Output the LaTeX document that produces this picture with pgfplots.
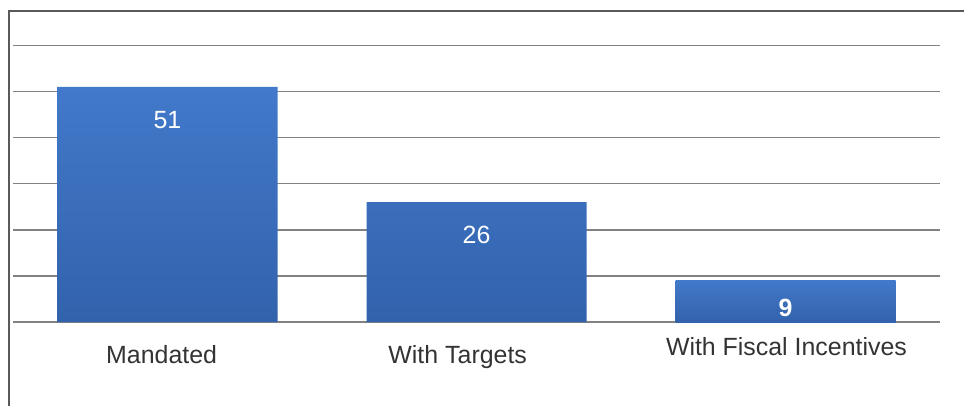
\documentclass[border=0pt]{standalone}
\usepackage{pgfplots}
\pgfplotsset{compat=1.18}
\usepackage{fontspec}
\setmainfont{Liberation Sans}
\definecolor{barTop}{HTML}{4279CA}
\definecolor{barMid}{HTML}{3E73C2}
\definecolor{barBot}{HTML}{3262AC}
\definecolor{gridc}{HTML}{828282}
\definecolor{txt}{HTML}{333333}
\definecolor{frame}{HTML}{5A5A5A}
\begin{document}
\begin{tikzpicture}[x=1bp,y=1bp]
\path[use as bounding box] (0,0) rectangle (964,406);
\draw[color=frame, line width=1.3bp] (9,0) -- (9,395) -- (964,395);
\begin{axis}[
  at={(13bp,84bp)}, anchor=south west,
  scale only axis, width=927bp, height=276.6bp,
  xmin=-0.5, xmax=2.5, ymin=0, ymax=60,
  axis line style={draw=none},
  major tick length=0pt,
  ytick={0,10,...,60}, yticklabels={},
  ymajorgrids, grid style={gridc, line width=1.5bp},
  xtick={-0.019,0.939,2.003},
  xticklabels={Mandated, With Targets, \raisebox{8bp}{With Fiscal Incentives}},
  xticklabel style={font=\fontsize{25}{28}\selectfont, text=txt, anchor=base, yshift=-41bp},
  clip=false,
]
\addplot[ybar, bar width=0.712, bar shift=0pt, draw=none, shade, top color=barTop, middle color=barMid, bottom color=barBot,
  nodes near coords, point meta=explicit symbolic,
  every node near coord/.append style={anchor=base, yshift=-41.5bp, text=white, font=\fontsize{25}{28}\selectfont}]
  coordinates {(0,51) [51] (1,26) [26]};
\addplot[ybar, bar width=0.712, bar shift=0pt, draw=none, shade, top color=barTop, middle color=barMid, bottom color=barBot,
  nodes near coords, point meta=explicit symbolic,
  every node near coord/.append style={anchor=base, yshift=-36bp, text=white, font=\bfseries\fontsize{25}{28}\selectfont}]
  coordinates {(2,9) [9]};
\end{axis}
\end{tikzpicture}
\end{document}
